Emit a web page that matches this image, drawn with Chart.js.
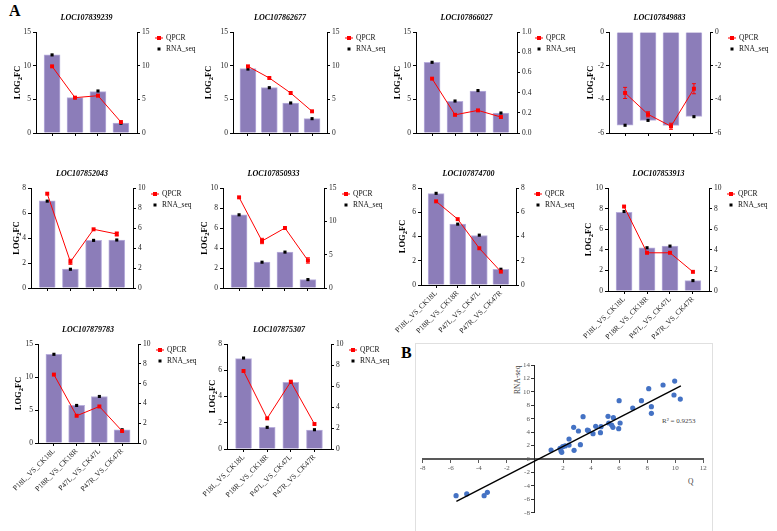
<!DOCTYPE html>
<html><head><meta charset="utf-8">
<script src="https://cdn.jsdelivr.net/npm/chart.js@4.4.0/dist/chart.umd.min.js"></script>
<style>
html,body{margin:0;padding:0;background:#fff;width:777px;height:531px;overflow:hidden;position:relative;font-family:'Liberation Serif',serif;}
canvas{position:absolute;}
.lbl{position:absolute;white-space:nowrap;line-height:1;}
</style></head><body>
<div class="lbl" style="left:9px;top:3px;font-size:16px;font-weight:bold;">A</div>
<div style="position:absolute;left:415px;top:343px;width:296px;height:220px;border:1px solid #e0e0e0;"></div>
<div class="lbl" style="left:401px;top:345px;font-size:16px;font-weight:bold;">B</div>
<div class="lbl" style="left:504px;top:376px;font-size:7.5px;color:#444;transform:rotate(-90deg);transform-origin:center;">RNA-seq</div>
<div class="lbl" style="left:688px;top:478px;font-size:7.5px;color:#444;">Q</div>
<div class="lbl" style="left:662px;top:418px;font-size:7px;color:#444;">R² = 0.9253</div>
<script>
// ---------- DATA ----------
const categories = ['P18L_VS_CK18L','P18R_VS_CK18R','P47L_VS_CK47L','P47R_VS_CK47R'];
const geneIds = ['LOC107839239','LOC107862677','LOC107866027','LOC107849883','LOC107852043',
                 'LOC107850933','LOC107874700','LOC107853913','LOC107879783','LOC107875307'];
// RNA-seq bars (left axis), QPCR (right axis), RNA_seq dots (left axis)
const bars1=[11.6,5.25,6.14,1.49],  qpcr1=[9.9,5.25,5.54,1.63],   rna1=[11.6,5.25,6.24,1.45];
const bars2=[9.55,6.73,4.46,2.13],  qpcr2=[9.9,8.17,5.94,3.22],   rna2=[9.5,6.73,4.46,2.13];
const bars3=[10.5,4.72,6.24,2.97],  qpcr3=[0.538,0.18,0.224,0.158], rna3=[10.5,4.75,6.3,2.97];
const bars4=[-5.54,-5.25,-5.55,-5.01], qpcr4=[-3.62,-4.89,-5.6,-3.37], rna4=[-5.54,-5.25,-5.6,-5.03];
const err4=[0.33,0.15,0.18,0.3];
const bars5=[6.98,1.52,3.81,3.84],  qpcr5=[9.43,2.62,5.87,5.4],   rna5=[6.95,1.5,3.81,3.84];
const err5=[0,0.25,0,0.2];
const bars6=[7.32,2.58,3.59,0.84],  qpcr6=[13.6,7.05,9.0,4.13],   rna6=[7.32,2.58,3.59,0.84];
const err6=[0,0.4,0,0.4];
const bars7=[7.53,5.02,4.08,1.3],   qpcr7=[6.9,5.43,3.03,1.1],    rna7=[7.56,5.02,4.11,1.3];
const bars8=[7.65,4.2,4.36,1.01],   qpcr8=[8.2,3.71,3.71,1.86],   rna8=[7.72,4.2,4.36,1.01];
const bars9=[13.44,5.69,7.05,2.01], qpcr9=[6.91,2.75,3.69,1.21],  rna9=[13.44,5.69,7.05,2.01];
const bars10=[6.88,1.65,5.08,1.45], qpcr10=[7.43,2.92,6.41,2.38], rna10=[6.93,1.65,5.08,1.47];
// axis ranges [min,max,step]
const leftTicks  = [[0,15,5],[0,15,5],[0,15,5],[-6,0,2],[0,8,2],[0,10,2],[0,8,2],[0,10,2],[0,15,5],[0,8,2]];
const rightTicks = [[0,15,5],[0,15,5],[0,1,0.2],[-6,0,2],[0,10,2],[0,15,5],[0,8,2],[0,10,2],[0,10,2],[0,10,2]];
// scatter (panel B)
const scatterQ  =[-5.62,-4.86,-3.62,-3.39,1.15,1.79,1.86,1.91,1.98,2.15,2.43,2.43,2.79,2.76,3.10,3.24,3.43,3.74,3.81,4.14,4.33,4.67,4.71,5.21,5.26,5.47,5.56,5.59,5.97,6.00,6.07,6.97,7.59,8.11,8.30,8.30,9.13,9.91,9.96,10.36];
const scatterRNA=[-5.46,-5.21,-5.46,-4.96,1.34,1.59,1.19,0.99,1.84,1.94,2.08,2.98,1.29,4.71,4.17,2.13,6.30,4.32,4.22,3.77,4.86,3.92,4.81,6.35,5.36,5.06,4.71,6.15,4.52,8.68,5.36,7.59,8.68,10.47,7.79,6.80,11.02,9.53,11.61,8.93];
const trendQ=[-5.6,10.4], trendRNA=[-6.3,10.9];
const scatterXTicks=[-8,12,2], scatterYTicks=[-8,14,2];

// ---------- LAYOUT ----------
const FONT='Liberation Serif';
const layoutP = [
 {L:36,R:137,T:32,B:133,yt:18,labels:false},
 {L:233,R:327,T:32,B:133,yt:24,labels:false},
 {L:416,R:517,T:32,B:133,yt:18,labels:false},
 {L:609,R:710,T:32,B:133,yt:18,labels:false},
 {L:31,R:133,T:188,B:288,yt:14,labels:false},
 {L:223,R:324,T:188,B:288,yt:18,labels:false},
 {L:421,R:516,T:188,B:285,yt:18,labels:true},
 {L:608,R:709,T:188,B:291,yt:19,labels:true},
 {L:38,R:138,T:344,B:443,yt:19,labels:true},
 {L:227,R:331,T:344,B:449,yt:14,labels:true}
];
const barsAll=[bars1,bars2,bars3,bars4,bars5,bars6,bars7,bars8,bars9,bars10];
const qpcrAll=[qpcr1,qpcr2,qpcr3,qpcr4,qpcr5,qpcr6,qpcr7,qpcr8,qpcr9,qpcr10];
const rnaAll=[rna1,rna2,rna3,rna4,rna5,rna6,rna7,rna8,rna9,rna10];
const errAll=[null,null,null,err4,err5,err6,null,null,null,null];

function drawLogFC(ctx,x,y){
  ctx.save(); ctx.translate(x,y); ctx.rotate(-Math.PI/2);
  const f1='bold 8.5px "'+FONT+'"', f2='bold 6.5px "'+FONT+'"';
  ctx.font=f1; const w1=ctx.measureText('LOG').width, w3=ctx.measureText('FC').width;
  ctx.font=f2; const w2=ctx.measureText('2').width;
  let sx=-(w1+w2+w3)/2;
  ctx.textAlign='left'; ctx.textBaseline='middle'; ctx.fillStyle='#000';
  ctx.font=f1; ctx.fillText('LOG',sx,0); sx+=w1;
  ctx.font=f2; ctx.fillText('2',sx,2.2); sx+=w2;
  ctx.font=f1; ctx.fillText('FC',sx,0);
  ctx.restore();
}

const padL=45, rightW=85, padT=26;
layoutP.forEach((g,i)=>{
  const W=g.R-g.L, H=g.B-g.T, xh=g.labels?62:10;
  const cv=document.createElement('canvas');
  const cw=W+padL+rightW, ch=H+padT+xh;
  cv.width=cw; cv.height=ch;
  cv.style.left=(g.L-padL)+'px'; cv.style.top=(g.T-padT)+'px';
  cv.style.width=cw+'px'; cv.style.height=ch+'px';
  document.body.appendChild(cv);
  const lt=leftTicks[i], rt=rightTicks[i], err=errAll[i];
  const tickFont={family:FONT,size:7.5};
  const deco={
    id:'deco'+i,
    afterDatasetsDraw(chart){
      const ctx=chart.ctx;
      if(err){
        const xs=chart.scales.x, ys=chart.scales.y2;
        ctx.save(); ctx.strokeStyle='#ff0000'; ctx.lineWidth=1;
        err.forEach((e,k)=>{ if(!e) return;
          const v=qpcrAll[i][k], px=xs.getPixelForValue(k);
          const y1=ys.getPixelForValue(v+e), y2=ys.getPixelForValue(v-e);
          ctx.beginPath(); ctx.moveTo(px,y1); ctx.lineTo(px,y2);
          ctx.moveTo(px-2,y1); ctx.lineTo(px+2,y1); ctx.moveTo(px-2,y2); ctx.lineTo(px+2,y2); ctx.stroke();
        });
        ctx.restore();
      }
    },
    afterDraw(chart){
      const ctx=chart.ctx, a=chart.chartArea;
      ctx.save();
      ctx.fillStyle='#000'; ctx.textAlign='center'; ctx.textBaseline='middle';
      ctx.font='italic bold 8px "'+FONT+'"';
      ctx.fillText(geneIds[i],(a.left+a.right)/2,a.top-14);
      drawLogFC(ctx,a.left-g.yt,(a.top+a.bottom)/2);
      // legend
      const x0=a.right+18, y0=a.top+6, y1=a.top+17;
      ctx.strokeStyle='#ff0000'; ctx.lineWidth=1;
      ctx.beginPath(); ctx.moveTo(x0,y0); ctx.lineTo(x0+8,y0); ctx.stroke();
      ctx.fillStyle='#ff0000'; ctx.fillRect(x0+2,y0-2,4,4);
      ctx.fillStyle='#000'; ctx.fillRect(x0+2.5,y1-1.5,3,3);
      ctx.font='7.5px "'+FONT+'"'; ctx.textAlign='left'; ctx.fillStyle='#111';
      ctx.fillText('QPCR',x0+11,y0+0.5); ctx.fillText('RNA_seq',x0+11,y1+0.5);
      ctx.restore();
    }
  };
  new Chart(cv,{
    type:'bar',
    data:{datasets:[
      {type:'bar',data:barsAll[i].map((v,k)=>({x:k,y:v})),backgroundColor:'#8c7db9',borderColor:'#b9afdc',borderWidth:1,barThickness:16,yAxisID:'y',order:3},
      {type:'line',data:rnaAll[i].map((v,k)=>({x:k,y:v})),showLine:false,pointStyle:'rect',pointRadius:2.2,pointBackgroundColor:'#000',pointBorderWidth:0,yAxisID:'y',order:2},
      {type:'line',data:qpcrAll[i].map((v,k)=>({x:k,y:v})),borderColor:'#ff0000',borderWidth:1,pointStyle:'rect',pointRadius:2.8,pointBackgroundColor:'#ff0000',pointBorderWidth:0,yAxisID:'y2',order:1}
    ]},
    options:{
      responsive:false,animation:false,devicePixelRatio:1,
      layout:{padding:{left:padL-30,top:padT,right:0,bottom:0}},
      plugins:{legend:{display:false},tooltip:{enabled:false}},
      scales:{
        x:{type:'linear',min:-0.7,max:3.7,offset:false,
          afterBuildTicks:s=>{s.ticks=[0,1,2,3].map(v=>({value:v}));},
          afterFit:s=>{s.height=xh;},
          grid:{display:true,offset:false,drawOnChartArea:false,drawTicks:true,tickLength:3,color:'#000'},
          border:{display:true,color:'#000',width:1},
          ticks:{display:g.labels,autoSkip:false,minRotation:45,maxRotation:45,padding:1,font:tickFont,color:'#222',
                 callback:(v)=>categories[v]}},
        y:{type:'linear',position:'left',min:lt[0],max:lt[1],
          afterFit:s=>{s.width=30;},
          grid:{display:true,drawOnChartArea:false,drawTicks:true,tickLength:3,color:'#000'},
          border:{display:true,color:'#000',width:1},
          ticks:{stepSize:lt[2],padding:2,font:tickFont,color:'#222'}},
        y2:{type:'linear',position:'right',min:rt[0],max:rt[1],
          afterFit:s=>{s.width=rightW;},
          grid:{display:true,drawOnChartArea:false,drawTicks:true,tickLength:3,color:'#000'},
          border:{display:true,color:'#000',width:1},
          ticks:{stepSize:rt[2],padding:2,font:tickFont,color:'#222',
                 callback:v=> rt[2]<1 ? v.toFixed(1) : v}}
      }
    },
    plugins:[deco]
  });
});

// ---------- Panel B scatter ----------
(function(){
  const cv=document.createElement('canvas');
  cv.width=297; cv.height=188; cv.style.left='415px'; cv.style.top='343px';
  cv.style.width='297px'; cv.style.height='188px';
  document.body.appendChild(cv);
  const f={family:FONT,size:7};
  const yLabels={
    id:'ylabels',
    afterDraw(chart){
      const ys=chart.scales.y, x0=chart.scales.x.getPixelForValue(0), ctx=chart.ctx;
      ctx.save(); ctx.font='7px "'+FONT+'"'; ctx.fillStyle='#595959';
      ctx.textAlign='right'; ctx.textBaseline='middle';
      ys.ticks.forEach(t=>{ ctx.fillText(String(t.value),x0-5,ys.getPixelForValue(t.value)); });
      ctx.restore();
    }
  };
  new Chart(cv,{
    type:'scatter',
    data:{datasets:[
      {type:'line',data:trendQ.map((x,k)=>({x,y:trendRNA[k]})),borderColor:'#000',borderWidth:1.4,pointRadius:0,order:1},
      {data:scatterQ.map((x,k)=>({x,y:scatterRNA[k]})),backgroundColor:'#4472c4',pointRadius:2.6,borderWidth:0,order:2}
    ]},
    options:{
      responsive:false,animation:false,devicePixelRatio:1,
      layout:{padding:{left:7.7,right:8.7,top:22,bottom:18.3}},
      plugins:{legend:{display:false},tooltip:{enabled:false}},
      scales:{
        x:{type:'linear',min:scatterXTicks[0],max:scatterXTicks[1],position:{y:0},
          grid:{display:true,drawOnChartArea:false,drawTicks:true,tickLength:3,color:'#595959'},
          border:{display:true,color:'#595959',width:2},
          ticks:{stepSize:scatterXTicks[2],padding:2,font:f,color:'#595959',callback:v=>v===0?'':v}},
        y:{type:'linear',min:scatterYTicks[0],max:scatterYTicks[1],position:{x:0},
          grid:{display:true,drawOnChartArea:false,drawTicks:true,tickLength:3,color:'#333'},
          border:{display:true,color:'#222',width:1},
          ticks:{stepSize:scatterYTicks[2],autoSkip:false,display:false}}
      }
    },
    plugins:[yLabels]
  });
})();
</script>
</body></html>
